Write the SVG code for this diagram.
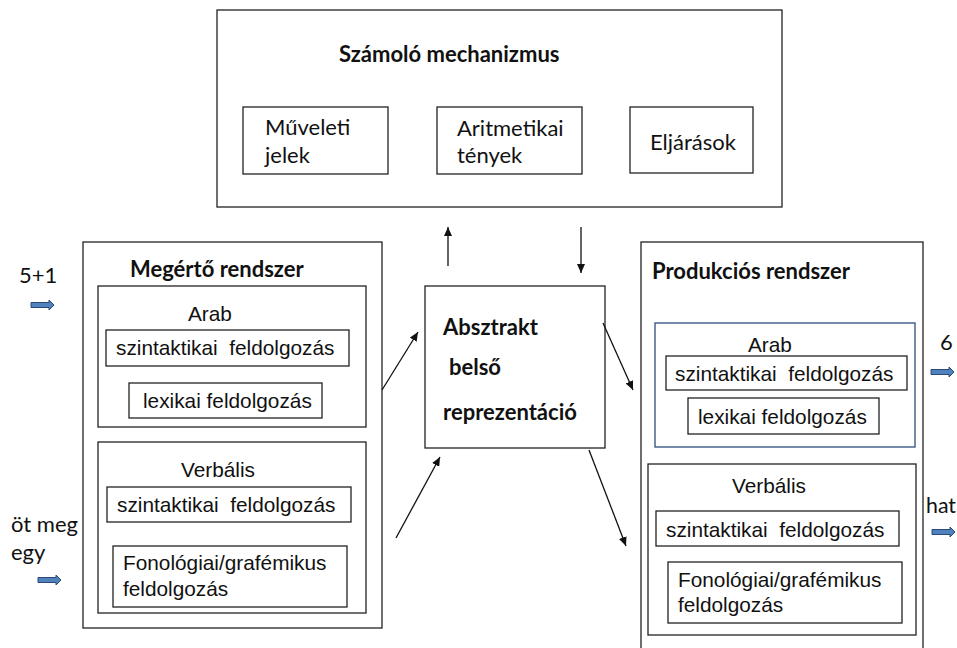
<svg xmlns="http://www.w3.org/2000/svg" xmlns:xlink="http://www.w3.org/1999/xlink" width="957" height="648" viewBox="0 0 957 648">
<style>
.box{fill:#fff;stroke:#222;stroke-width:1.3}
.bbox{fill:#fff;stroke:#2c4d7c;stroke-width:1.3}
.c{font-family:Lato,"Open Sans",sans-serif;font-size:22px;fill:#111}
.cb{font-family:Lato,"Open Sans",sans-serif;font-size:22px;font-weight:bold;fill:#111}
.a{font-family:"Liberation Sans",Arial,sans-serif;font-size:20.8px;fill:#111}
.ln{stroke:#111;stroke-width:1.3;fill:none;marker-end:url(#ah)}
.blk{fill:#4f81bd;stroke:#2a4a75;stroke-width:1}
</style>
<defs>
<marker id="ah" markerUnits="userSpaceOnUse" markerWidth="10" markerHeight="8" refX="9" refY="4" orient="auto">
<path d="M0,0 L9,4 L0,8 Z" fill="#111"/>
</marker>
<path id="blockarrow" class="blk" d="M0,-2.5 H18 V-5 L23,0 L18,5 V2.5 H0 Z"/>
</defs>
<rect width="957" height="648" fill="#fff"/>

<g id="szamolo">
<rect class="box" x="217" y="10" width="565" height="197"/>
<text class="cb" x="339" y="62">Számoló mechanizmus</text>
</g>
<g id="muveleti">
<rect class="box" x="243" y="107" width="145" height="67"/>
<text class="c" x="265" y="135">Műveleti</text>
<text class="c" x="265" y="163">jelek</text>
</g>
<g id="aritmetikai">
<rect class="box" x="437" y="107" width="145" height="67"/>
<text class="c" x="457" y="136">Aritmetikai</text>
<text class="c" x="457" y="163">tények</text>
</g>
<g id="eljarasok">
<rect class="box" x="630" y="107" width="123" height="66"/>
<text class="c" x="650" y="150">Eljárások</text>
</g>

<g id="megerto">
<rect class="box" x="83" y="242" width="299" height="386"/>
<text class="cb" x="130" y="277">Megértő rendszer</text>
</g>
<g id="megerto-arab">
<rect class="box" x="98" y="286" width="268" height="141"/>
<text class="a" x="188" y="321">Arab</text>
<rect class="box" x="106" y="330" width="243" height="36"/>
<text class="a" x="116" y="355" xml:space="preserve">szintaktikai  feldolgozás</text>
<rect class="box" x="129" y="383" width="193" height="35"/>
<text class="a" x="143" y="408">lexikai feldolgozás</text>
</g>
<g id="megerto-verbalis">
<rect class="box" x="98" y="442" width="268" height="171"/>
<text class="a" x="181" y="477">Verbális</text>
<rect class="box" x="107" y="487" width="244" height="35"/>
<text class="a" x="117" y="512" xml:space="preserve">szintaktikai  feldolgozás</text>
<rect class="box" x="113" y="546" width="234" height="61"/>
<text class="a" x="123" y="570">Fonológiai/grafémikus</text>
<text class="a" x="123" y="596">feldolgozás</text>
</g>

<g id="absztrakt">
<rect class="box" x="425" y="286" width="180" height="162"/>
<text class="cb" x="443" y="335">Absztrakt</text>
<text class="cb" x="449" y="375">belső</text>
<text class="cb" x="443" y="420">reprezentáció</text>
</g>

<g id="produkcios">
<rect class="box" x="641" y="242" width="282" height="420"/>
<text class="cb" x="652" y="279">Produkciós rendszer</text>
</g>
<g id="produkcios-arab">
<rect class="bbox" x="655" y="323" width="260" height="124"/>
<text class="a" x="748" y="352">Arab</text>
<rect class="box" x="666" y="356" width="241" height="34"/>
<text class="a" x="675" y="381" xml:space="preserve">szintaktikai  feldolgozás</text>
<rect class="box" x="688" y="398" width="191" height="36"/>
<text class="a" x="698" y="424">lexikai feldolgozás</text>
</g>
<g id="produkcios-verbalis">
<rect class="box" x="648" y="464" width="268" height="171"/>
<text class="a" x="732" y="493">Verbális</text>
<rect class="box" x="656" y="511" width="243" height="35"/>
<text class="a" x="666" y="537" xml:space="preserve">szintaktikai  feldolgozás</text>
<rect class="box" x="668" y="562" width="234" height="61"/>
<text class="a" x="678" y="587">Fonológiai/grafémikus</text>
<text class="a" x="678" y="612">feldolgozás</text>
</g>

<g id="inputs">
<text class="c" x="19" y="283">5+1</text>
<use xlink:href="#blockarrow" x="31" y="305"/>
<text class="c" x="11" y="532">öt meg</text>
<text class="c" x="11" y="560">egy</text>
<use xlink:href="#blockarrow" x="38" y="580"/>
</g>
<g id="outputs">
<text class="c" x="940" y="350">6</text>
<use xlink:href="#blockarrow" x="931" y="372"/>
<text class="c" x="926" y="513" textLength="30" lengthAdjust="spacingAndGlyphs">hat</text>
<use xlink:href="#blockarrow" x="932" y="532"/>
</g>

<g id="connectors">
<line class="ln" x1="448" y1="266" x2="448" y2="227"/>
<line class="ln" x1="581" y1="227" x2="581" y2="273"/>
<line class="ln" x1="382" y1="390" x2="418" y2="332"/>
<line class="ln" x1="396" y1="538" x2="440" y2="457"/>
<line class="ln" x1="603" y1="323" x2="633" y2="390"/>
<line class="ln" x1="589" y1="450" x2="626" y2="546"/>
</g>
</svg>
